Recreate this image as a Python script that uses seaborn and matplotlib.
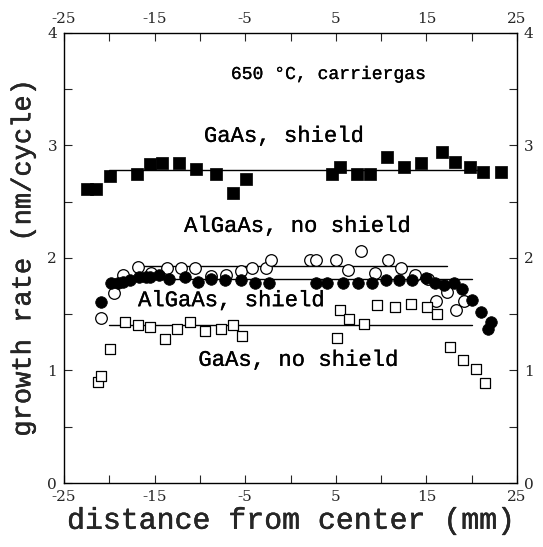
import numpy as np
import pandas as pd
import matplotlib
matplotlib.use("Agg")
import matplotlib.pyplot as plt
import matplotlib.patheffects as pe
import seaborn as sns

# GaAs, shield (filled squares)
gaas_sh_x = [-22.5, -21.5, -19.9, -16.9, -15.5, -14.2, -12.3, -10.4, -8.2, -6.3, -4.9,
             4.6, 5.5, 7.3, 8.8, 10.6, 12.5, 14.4, 16.7, 18.2, 19.8, 21.2, 23.2]
gaas_sh_y = [2.61, 2.61, 2.73, 2.75, 2.83, 2.84, 2.84, 2.79, 2.75, 2.58, 2.70,
             2.75, 2.81, 2.75, 2.75, 2.90, 2.81, 2.84, 2.94, 2.85, 2.81, 2.76, 2.76]

# AlGaAs, no shield (open circles)
algaas_nosh_x = [-20.9, -19.5, -18.5, -16.8, -15.4, -13.6, -12.1, -10.5, -8.8, -7.1,
                 -5.5, -4.2, -2.7, -2.1, 2.2, 2.8, 5.0, 6.3, 7.8, 9.3, 10.8, 12.2,
                 13.8, 15.2, 16.1, 17.3, 18.3, 19.2]
algaas_nosh_y = [1.47, 1.69, 1.85, 1.92, 1.87, 1.91, 1.91, 1.91, 1.84, 1.85,
                 1.88, 1.91, 1.91, 1.98, 1.98, 1.98, 1.98, 1.89, 2.06, 1.87, 1.98, 1.91,
                 1.85, 1.81, 1.62, 1.70, 1.54, 1.62]

# AlGaAs, shield (filled circles)
algaas_sh_x = [-20.9, -19.8, -19.0, -18.5, -17.7, -16.7, -16.0, -15.5, -14.5, -13.4,
               -11.7, -10.2, -8.8, -7.2, -5.5, -3.9, -2.4, 2.8, 4.0, 5.8, 7.5, 9.0,
               10.5, 12.0, 13.4, 15.0, 15.9, 17.0, 18.0, 18.9, 20.0, 21.0, 22.1, 21.8]
algaas_sh_y = [1.61, 1.78, 1.78, 1.79, 1.80, 1.83, 1.83, 1.83, 1.85, 1.81,
               1.83, 1.79, 1.81, 1.80, 1.80, 1.78, 1.78, 1.78, 1.78, 1.78, 1.78, 1.78,
               1.80, 1.80, 1.80, 1.82, 1.78, 1.76, 1.78, 1.72, 1.63, 1.52, 1.43, 1.37]

# GaAs, no shield (open squares)
gaas_nosh_x = [-21.2, -20.9, -19.9, -18.3, -16.8, -15.5, -13.9, -12.5, -11.1, -9.4,
               -7.7, -6.4, -5.4, 5.1, 5.5, 6.5, 8.1, 9.6, 11.5, 13.3, 15.1, 16.2,
               17.6, 19.1, 20.5, 21.5]
gaas_nosh_y = [0.90, 0.95, 1.19, 1.43, 1.40, 1.39, 1.28, 1.37, 1.43, 1.35,
               1.37, 1.40, 1.31, 1.29, 1.54, 1.46, 1.41, 1.58, 1.56, 1.59, 1.56, 1.50,
               1.21, 1.09, 1.01, 0.89]

# mean-level lines: start, end, level
fit_gaas_sh = ([-20.0, 21.0], [2.78, 2.78])
fit_algaas_nosh = ([-17.0, 17.3], [1.93, 1.93])
fit_algaas_sh = ([-20.0, 20.0], [1.81, 1.81])
fit_gaas_nosh = ([-20.0, 20.0], [1.40, 1.40])

x_ticklabels = [-25, -15, -5, 5, 15, 25]
y_ticklabels = [0, 1, 2, 3, 4]

sns.set_theme(style="ticks")
serif = ["DejaVu Serif"]
mono = ["Liberation Mono", "DejaVu Serif"]
plt.rcParams["font.family"] = serif
plt.rcParams["axes.linewidth"] = 1.0

# a touch heavier strokes for the typewriter-style labels
def heavier(w):
    return [pe.withStroke(linewidth=w, foreground="black")]

fig = plt.figure(figsize=(5.43, 5.47), dpi=100)
ax = fig.add_axes([0.118, 0.117, 0.834, 0.823])

ms = 70
sns.scatterplot(x=gaas_sh_x, y=gaas_sh_y, marker="s", s=ms, color="black",
                edgecolor="black", linewidth=0.5, ax=ax, zorder=3)
sns.scatterplot(x=algaas_nosh_x, y=algaas_nosh_y, marker="o", s=ms,
                facecolor="white", edgecolor="black", linewidth=0.9, ax=ax, zorder=3)
sns.scatterplot(x=algaas_sh_x, y=algaas_sh_y, marker="o", s=ms, color="black",
                edgecolor="black", linewidth=0.5, ax=ax, zorder=4)
sns.scatterplot(x=gaas_nosh_x, y=gaas_nosh_y, marker="s", s=55,
                facecolor="white", edgecolor="black", linewidth=0.9, ax=ax, zorder=3)

for fx, fy in [fit_gaas_sh, fit_algaas_nosh, fit_algaas_sh, fit_gaas_nosh]:
    sns.lineplot(x=fx, y=fy, color="black", linewidth=1.0, ax=ax, zorder=2)

ax.set_xlim(-25, 25)
ax.set_ylim(0, 4)
ax.set_xticks(np.arange(-25, 26, 5))
ax.set_xticklabels([str(v) if v in x_ticklabels else "" for v in range(-25, 26, 5)])
ax.set_yticks(np.arange(0, 4.01, 0.5))
ax.set_yticklabels([str(int(v)) if float(v).is_integer() else "" for v in np.arange(0, 4.01, 0.5)])
ax.tick_params(direction="in", length=6, width=0.8, labelsize=11,
               top=True, right=True, labeltop=True, labelright=True, pad=5)
for sp in ax.spines.values():
    sp.set_visible(True)
    sp.set_color("black")

ax.set_xlabel("distance from center (mm)", fontsize=21.5, family=mono,
              labelpad=2, path_effects=heavier(0.3))
ax.set_ylabel("growth rate (nm/cycle)", fontsize=19.5, family=mono,
              labelpad=8, path_effects=heavier(0.3))

tk = dict(ha="center", va="center", color="black", family=mono,
          path_effects=heavier(0.2))
ax.text(4.1, 3.63, "650 °C, carriergas", fontsize=13, **tk)
ax.text(-0.7, 3.08, "GaAs, shield", fontsize=16, **tk)
ax.text(0.8, 2.28, "AlGaAs, no shield", fontsize=16, **tk)
ax.text(-6.5, 1.62, "AlGaAs, shield", fontsize=16, **tk)
ax.text(0.9, 1.09, "GaAs, no shield", fontsize=16, **tk)

fig.savefig("out.png", dpi=100, facecolor="white")
